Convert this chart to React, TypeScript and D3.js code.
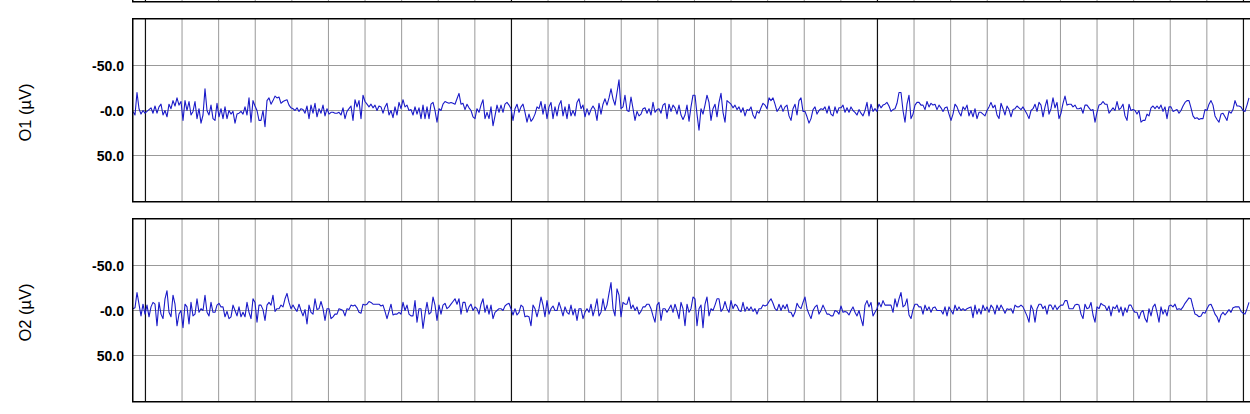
import React from 'react';
import * as d3 from 'd3';

// ---- data (µV, negative up), sampled every 1/183 s starting at tStart ----
const o1a = [
  1,5,-20,-2,4,0,3,1,-1,-3,
  3,-5,3,-4,-7,5,0,7,-7,-2,
  -11,-5,-14,-6,-10,11,-11,0,-10,5,
  1,-10,9,-2,14,5,-24,0,5,-6,
  9,11,-8,7,-2,9,-4,9,0,4,
  1,14,4,3,1,4,-4,5,-14,13,
  -11,-5,0,11,11,0,18,-11,-14,-7,
  -11,-16,-14,-15,-8,-10,-11,-12,-6,-3,
  -2,0,-3,1,-2,-1,3,-5,9,-6,
  3,-8,7,-2,3,-6,6,-2,4,2,
  2,3,3,2,5,-3,9,1,-2,-5,
  11,-12,-4,-11,9,-17,-10,-7,-4,-7,
  -3,-6,0,-5,-4,3,-4,-8,5,0,
  8,-4,5,-9,-2,-12,-4,-6,0,-1,
  5,
];
const o1b = [
  -4,4,-3,9,-6,9,-4,9,-7,-9,
  0,13,-2,0,-7,-10,-9,-8,-9,-8,
  -7,-13,-19,-7,-8,-1,-7,-3,0,7,
  9,-2,2,-6,-12,9,2,9,-4,17,
  6,-6,2,-6,2,-7,-9,-6,-2,11,
  -2,-7,2,-4,-7,2,13,4,12,9,
  4,-4,-2,-10,4,-7,9,-4,-9,9,
  -4,6,-6,-11,6,-4,9,-7,6,0,
  6,-9,-13,-2,-6,7,-2,5,-1,-5,
  -1,11,-8,4,-7,-13,-6,-14,-24,-13,
  -6,-20,-34,-2,-4,-17,0,1,-15,-2,
  11,1,6,4,-2,-3,3,-2,5,-9,
  2,-1,-2,3,-6,-8,9,-7,1,-6,
  -3,4,-6,5,10,5,-6,12,-4,-17,
];
const o1c = [
  -17,4,22,-2,4,-6,-17,-9,11,-2,
  -7,7,-9,-19,2,13,-11,-9,-7,-3,
  -6,-1,-4,2,-3,6,-1,0,-4,5,
  9,1,3,-3,-8,-6,-2,-14,-11,-14,
  -7,1,-2,-6,1,-4,-6,6,11,-2,
  -7,5,-11,-14,1,1,7,14,9,-1,
  -4,4,0,-2,-1,-4,3,-5,4,6,
  -4,3,-3,-3,-6,2,-3,2,-4,0,
  2,5,-1,3,6,0,-9,6,-7,1,
  -2,1,-7,-3,-6,-7,-9,-5,1,-1,
  -2,-8,-20,-20,0,13,-7,-17,9,4,
  -6,-9,-9,-6,-6,-1,-10,-4,-8,-6,
  -7,-1,-6,-3,1,-3,-4,4,11,4,
  -7,-4,2,6,-4,-1,-6,6,0,7,
];
const o1d = [
  -2,9,2,2,4,6,0,-4,-9,-3,
  -6,5,9,-8,-2,5,-5,-1,7,-1,
  -2,-5,-3,-1,-4,0,4,9,0,-2,
  -7,1,-9,-6,7,-4,-12,4,-2,-14,
  -3,-9,9,3,-8,-16,-6,-7,-7,-4,
  -6,-2,-2,-3,3,-6,-6,-3,0,-1,
  13,2,-6,-7,-10,-7,-7,3,0,-3,
  0,-10,-1,-3,-7,6,11,-7,0,-1,
  0,4,0,13,11,11,4,6,-3,-5,
  -2,-5,-2,-6,1,-4,9,-4,-4,1,
  0,-1,3,0,-5,-9,-11,-11,-3,6,
  9,8,10,9,9,-1,0,-7,-11,-6,
  6,10,13,4,3,7,11,1,3,-1,
  -11,-5,-5,-4,0,1,-6,-14,
];

const o2a = [
  -2,-3,-20,-7,6,-7,4,-6,7,-4,
  -9,-7,17,-9,4,9,-13,-22,2,7,
  -17,-7,17,4,0,19,-7,-4,15,-9,
  6,4,-13,2,-2,0,-17,2,6,-9,
  2,2,-6,-8,-4,-4,7,1,9,7,
  -6,0,6,-4,7,2,7,-9,2,9,
  -13,-9,13,-6,-6,-1,11,-6,-9,-6,
  -17,1,-2,-2,-6,-4,-13,-19,-9,-2,
  -6,-2,1,-7,0,6,-1,15,-6,2,
  4,-13,-1,-2,-10,-2,11,-2,-2,9,
  7,4,4,-2,-1,0,6,-2,-1,-6,
  -5,-6,-3,2,3,-7,-6,-7,-10,-9,
  -7,-7,-7,-7,-5,-6,1,9,1,-7,
  5,4,4,2,4,-9,0,-6,4,6,
  6,
];
const o2b = [
  -11,13,-2,-2,20,4,-9,4,2,-15,
  -6,11,-6,4,-6,-8,-2,-4,-7,-10,
  -13,-7,-13,4,-9,-9,2,-4,-7,0,
  -4,-2,4,-7,-13,2,-6,4,-6,9,
  2,0,-2,-2,0,-5,-7,-8,-2,5,
  -2,5,2,-6,-4,7,6,7,17,-6,
  -2,7,-2,-15,-6,7,-11,4,-2,-5,
  0,0,-9,-2,6,-4,2,4,-6,5,
  -2,11,-2,-2,9,2,-2,2,-7,6,
  -2,-13,6,2,-13,0,-6,-19,-31,-2,
  6,-24,-17,7,-9,-7,-7,-15,-2,-6,
  0,-4,4,1,-4,-4,-7,-7,-2,6,
  13,-6,-9,11,-2,-2,2,-2,-6,2,
  -7,0,9,-9,-2,17,-7,2,-2,-15,
];
const o2c = [
  -13,17,-2,-6,19,-7,-15,6,-2,0,
  -6,-13,-13,1,-2,-10,-2,2,-11,-2,
  -7,-5,0,1,-9,1,-4,0,-4,1,
  -2,4,-2,-2,-6,-5,-6,-10,-13,-8,
  -2,0,-7,0,-6,-2,-7,2,2,7,
  2,-8,-4,-2,-9,-15,-2,4,9,0,
  -4,-6,4,0,-6,-1,4,4,6,6,
  0,1,4,-5,2,1,2,5,0,-4,
  2,6,0,9,17,-6,-11,-4,-9,6,
  2,-2,-9,-4,-11,-6,-6,-6,-6,2,
  -13,-4,-13,-20,-4,-6,-13,5,9,-1,
  -7,-7,-4,-4,4,-6,0,-4,2,-3,
  -4,0,0,0,4,-4,6,-4,0,4,
  -6,0,-4,0,-2,0,-2,-3,-4,8,
];
const o2d = [
  -6,4,-2,4,-6,0,-4,2,-6,-3,
  4,-6,0,-6,-2,3,-2,-1,-2,3,
  -6,-4,-4,-6,-4,1,6,13,-6,-1,
  13,-2,-7,-7,-2,-5,4,-6,-6,-1,
  -6,-1,-4,-6,-6,-11,-11,-2,-2,-2,
  -6,-7,-6,4,9,-7,-2,-3,-9,5,
  13,-4,-2,-8,-6,-5,0,-5,6,-4,
  -2,-6,2,-4,6,-3,2,-6,-6,-1,
  2,2,9,2,0,9,13,-2,6,-4,
  -7,2,13,-4,4,-1,6,-5,-6,-4,
  -7,-1,-2,-1,-4,-8,-11,-14,-13,-4,
  4,5,7,6,2,3,-2,-6,-7,-2,
  4,7,13,5,2,5,2,-1,2,-3,
  -4,-4,-4,1,3,4,-2,-9,
];

const channelNames = ['O1', 'O2'];
const yTicks = [-50, 0, 50];
const yTickLabels = ['-50.0', '-0.0', '50.0'];
const sampleRate = 183; // samples per second
const tStart = 11.966; // seconds
const tEnd = 15.2;

const o1 = [...o1a, ...o1b, ...o1c, ...o1d];
const o2 = [...o2a, ...o2b, ...o2c, ...o2d];

const FONT = "'Liberation Sans', Arial, Helvetica, sans-serif";

export default function App() {
  const W = 1250;
  const H = 414;
  const plotLeft = 133;
  const pxPerSec = 366;
  const panelStep = 200;

  const x = d3
    .scaleLinear()
    .domain([tStart, tEnd])
    .range([plotLeft, plotLeft + (tEnd - tStart) * pxPerSec]);

  const gridTimes = d3
    .range(120, 153)
    .map((d) => d / 10)
    .filter((t) => t >= tStart);

  const panels = [
    { name: null as string | null, data: null as number[] | null, oy: -panelStep },
    { name: channelNames[0], data: o1, oy: 0 },
    { name: channelNames[1], data: o2, oy: panelStep },
  ];

  return (
    <svg
      width={W}
      height={H}
      style={{ position: 'absolute', left: 0, top: 0, display: 'block', background: '#fff' }}
    >
      <defs>
        {panels.map((p, k) => (
          <clipPath id={`clip${k}`} key={k}>
            <rect x={plotLeft} y={19.5 + p.oy} width={1300} height={181.5} />
          </clipPath>
        ))}
      </defs>
      {panels.map((p, k) => {
        const y = d3.scaleLinear().domain([-100, 100]).range([20.5 + p.oy, 200.5 + p.oy]);
        const top = 18.75 + p.oy;
        const bottom = top + 183;
        const line = d3
          .line<number>()
          .x((_, i) => x(tStart + i / sampleRate))
          .y((v) => y(v));
        return (
          <g key={k}>
            <rect x={132.75} y={top} width={1300} height={183} fill="#fff" />
            {yTicks.map((v) => (
              <line
                key={`h${v}`}
                x1={plotLeft}
                x2={W + 10}
                y1={y(v)}
                y2={y(v)}
                stroke="#999"
                strokeWidth={1}
              />
            ))}
            {gridTimes.map((t) => {
              const major = Math.abs(t - Math.round(t)) < 1e-6;
              return (
                <line
                  key={`v${t}`}
                  x1={x(t)}
                  x2={x(t)}
                  y1={top}
                  y2={bottom}
                  stroke={major ? '#111' : '#999'}
                  strokeWidth={major ? 1.2 : 1}
                />
              );
            })}
            {p.data && (
              <path
                d={line(p.data) || ''}
                fill="none"
                stroke="#1a1ac8"
                strokeWidth={1.1}
                strokeLinejoin="round"
                clipPath={`url(#clip${k})`}
              />
            )}
            <rect
              x={132.75}
              y={top}
              width={1300}
              height={183}
              fill="none"
              stroke="#000"
              strokeWidth={1.5}
            />
            {p.name &&
              yTicks.map((v, j) => (
                <text
                  key={`t${v}`}
                  x={124}
                  y={y(v) + 5.2}
                  textAnchor="end"
                  fontFamily={FONT}
                  fontSize={14}
                  fontWeight="bold"
                  fill="#000"
                >
                  {yTickLabels[j]}
                </text>
              ))}
            {p.name && (
              <text
                transform={`translate(30.5, ${112.5 + p.oy}) rotate(-90)`}
                textAnchor="middle"
                fontFamily={FONT}
                fontSize={16.5}
                fill="#000"
              >
                {`${p.name} (µV)`}
              </text>
            )}
          </g>
        );
      })}
    </svg>
  );
}
